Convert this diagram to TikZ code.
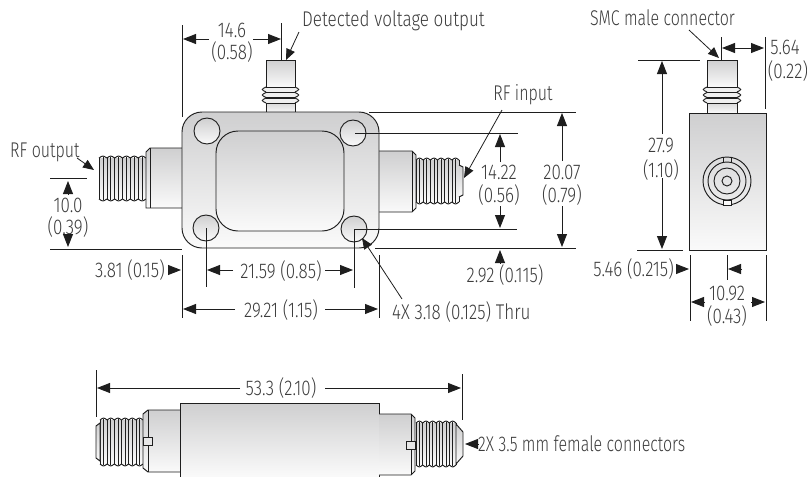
\documentclass[tikz,border=0pt]{standalone}
\usepackage{fontspec}
\setmainfont[FakeStretch=0.80]{Fira Sans Light}
\newfontfamily\narrowface[FakeStretch=0.75]{Fira Sans Light}
\usetikzlibrary{arrows.meta}
\definecolor{inkc}{HTML}{1E1E1E}
\definecolor{txtc}{HTML}{3C3C3C}
\definecolor{shadetop}{HTML}{CFCFD0}
\definecolor{shadebot}{HTML}{FAFAFA}
\tikzset{
  lbl/.style={inner sep=0pt,text=txtc,font=\fontsize{21.3}{22}\selectfont,anchor=center},
  lblnarrow/.style={lbl,font=\fontsize{21.3}{22}\selectfont\narrowface},
  outline/.style={draw=inkc,line width=0.95pt},
  metal/.style={outline,top color=shadetop,bottom color=shadebot},
  extline/.style={draw=inkc,line width=0.85pt},
  dimline/.style={draw=inkc,line width=0.85pt,-{Triangle[length=13pt,width=10pt]}},
  leaderline/.style={draw=inkc,line width=0.8pt,-{Triangle[length=11pt,width=9pt]}},
  fineline/.style={draw=inkc,line width=0.6pt}
}
% horizontal thread: x0,x1,ytop,ybot,teeth
\newcommand{\hthreadpart}[5]{%
  \pgfmathsetmacro{\thw}{(#2-#1)/#5}
  \fill[top color=shadetop,bottom color=shadebot] (#1,#3) rectangle (#2,#4);
  \foreach \ti in {1,...,#5}{
    \pgfmathsetmacro{\xa}{#1+(\ti-1)*\thw}
    \pgfmathsetmacro{\xb}{#1+\ti*\thw}
    \pgfmathsetmacro{\xm}{(\xa+\xb)/2}
    \draw[outline] (\xa,#3) .. controls (\xm,#3-2.6) .. (\xb,#3);
    \draw[outline] (\xa,#4) .. controls (\xm,#4+2.6) .. (\xb,#4);
    \draw[fineline] (\xa,#3) -- (\xa,#4);
    \draw[fineline] (\xm,#3-1) -- (\xm,#4+1);
  }
  \draw[fineline] (#2,#3) -- (#2,#4);
}
% vertical connector: x0,x1,top
\newcommand{\vconnpart}[3]{%
  \draw[metal] (#1,#3) rectangle (#2,#3+27);
  \draw[metal] (#1,#3+40) rectangle (#2,#3+53);
  \foreach \yy in {27,32.5,38}{
    \fill[shadebot!75!shadetop] (#1-3,#3+\yy) rectangle (#2+3,#3+\yy+5);
    \draw[outline] (#1,#3+\yy) .. controls (#1-5,#3+\yy+2.5) .. (#1,#3+\yy+5);
    \draw[outline] (#2,#3+\yy) .. controls (#2+5,#3+\yy+2.5) .. (#2,#3+\yy+5);
    \draw[outline] (#1,#3+\yy+0.2) -- (#2,#3+\yy+0.2);
    \draw[outline] (#1,#3+\yy+5) -- (#2,#3+\yy+5);
  }
}
\begin{document}
\begin{tikzpicture}[x=1pt,y=-1pt]
\useasboundingbox (0,0) rectangle (807,477);

% ---------- main view: connectors
\vconnpart{266}{295}{60}
\hthreadpart{99}{146}{158}{199}{6}
\draw[metal] (182,148) -- (150,148) -- (146,152) -- (146,208) -- (182,208);
\draw[fineline] (150,148) -- (150,208);
\draw[metal] (379,151) -- (412,151) -- (416,155) -- (416,208) -- (412,212) -- (379,212);
\draw[fineline] (412,151) -- (412,212);
\hthreadpart{416}{459}{160}{202}{6}
\draw[metal] (459,165) -- (463,167) -- (463,195) -- (459,197);

% ---------- main view: body
\draw[metal,rounded corners=20pt] (182,112) rectangle (379,248);
\draw[metal,rounded corners=22pt] (216,131) rectangle (344,231);
\node[circle,metal,minimum size=26pt,inner sep=0pt] (holeTL) at (207,131) {};
\node[circle,metal,minimum size=26pt,inner sep=0pt] (holeTR) at (353,133) {};
\node[circle,metal,minimum size=26pt,inner sep=0pt] (holeBL) at (206,228) {};
\node[circle,metal,minimum size=26pt,inner sep=0pt] (holeBR) at (354,229) {};

% ---------- side view
\vconnpart{707}{737}{60}
\draw[metal] (689,113) rectangle (766,250);
\node[circle,outline,minimum size=48pt,inner sep=0pt] (ringA) at (727,181) {};
\node[circle,outline,minimum size=38pt,inner sep=0pt] (ringB) at (727,181) {};
\node[circle,outline,minimum size=26pt,inner sep=0pt] (ringC) at (727,181) {};
\node[circle,outline,minimum size=10pt,inner sep=0pt] (ringD) at (727,181) {};
\draw[outline,line width=0.7pt,fill=shadebot] (723,200) rectangle (731,205);
\draw[outline,line width=0.7pt] (723,157) -- (723,162) (731,157) -- (731,162);

% ---------- bottom view
\hthreadpart{100}{143}{420}{464}{6}
\draw[metal] (100,423) -- (96,426) -- (96,458) -- (100,461) -- cycle;
\draw[metal] (180,410) -- (148,410) -- (143,414) -- (143,468) -- (148,472) -- (180,472);
\draw[fineline] (148,410) -- (148,472);
\draw[outline,line width=0.7pt,fill=shadetop!50!white] (143,437) rectangle (152,445);
\shade[top color=shadetop,bottom color=shadebot] (180,403) rectangle (379,477);
\draw[outline] (180,477) -- (180,403) -- (379,403) -- (379,477);
\draw[metal] (379,414) -- (411,414) -- (415,418) -- (415,471) -- (411,475) -- (379,475);
\draw[fineline] (411,414) -- (411,475);
\draw[outline,line width=0.7pt,fill=shadetop!50!white] (406,441) rectangle (415,449);
\hthreadpart{416}{456}{423}{465}{6}
\draw[metal] (456,424) -- (463,432) -- (463,456) -- (456,464) -- cycle;

% ---------- labels
\node[lbl] (n146a) at (232,30) {14.6};
\node[lbl] (n146b) at (232,52) {(0.58)};
\node[lbl,anchor=west] (detected) at (302,21) {Detected voltage output};
\node[lblnarrow,anchor=west] (rfout) at (10,152) {RF output};
\node[lbl] (n10a) at (68,205) {10.0};
\node[lbl] (n10b) at (68,227) {(0.39)};
\node[lbl,anchor=east] (n381) at (165,270) {3.81 (0.15)};
\node[lbl] (n2159) at (281,271) {21.59 (0.85)};
\node[lbl] (n2921) at (281,310) {29.21 (1.15)};
\node[lbl,anchor=west] (thru) at (392,312) {4X 3.18 (0.125) Thru};
\node[lblnarrow] (rfin) at (523,95) {RF input};
\node[lbl] (n1422a) at (499,172) {14.22};
\node[lbl] (n1422b) at (499,195) {(0.56)};
\node[lbl] (n2007a) at (562,172) {20.07};
\node[lbl] (n2007b) at (562,195) {(0.79)};
\node[lbl] (n292) at (505,275) {2.92 (0.115)};
\node[lblnarrow,anchor=west] (smc) at (590,18) {SMC male connector};
\node[lbl] (n564a) at (785,47) {5.64};
\node[lbl] (n564b) at (788,71) {(0.22)};
\node[lbl] (n279a) at (661,146) {27.9};
\node[lbl] (n279b) at (661,170) {(1.10)};
\node[lbl,anchor=east] (n546) at (674,269) {5.46 (0.215)};
\node[lbl] (n1092a) at (727,293) {10.92};
\node[lbl] (n1092b) at (727,316) {(0.43)};
\node[lbl] (n533) at (281,388) {53.3 (2.10)};
\node[lblnarrow,anchor=west] (female) at (478,444) {2X 3.5 mm female connectors};

% ---------- extension lines
\foreach \pa/\pb/\pc/\pd in {182/25/182/117, 281/23/281/60, 182/255/182/318, 206/228/206/287,
  354/229/354/288, 379/255/379/318, 721/37/721/60, 765/37/765/109, 690/255/690/321,
  727/255/727/280, 766/255/766/321, 96/370/96/417, 462/374/462/420,
  369/112/576/112, 355/133/518/133, 355/229/517/229, 375/248/576/248,
  50/178/87/178, 50/249/182/249, 638/60/700/60, 637/250/683/250}
  {\draw[extline] (\pa,\pb) -- (\pc,\pd);}

% ---------- dimension arrows
\foreach \pa/\pb/\pc/\pd in {209/39/183/39, 253/39/281/39,
  68/194/68/181, 68/234/68/247,
  168/270/181/270,
  233/270/207/270, 325/270/353/270,
  235/309/183/309, 325/309/378/309,
  500/162/500/134, 500/206/500/228,
  562/161/562/113, 562/206/562/247,
  500/263/500/250,
  743/48/722/48, 743/48/764/48,
  662/134/662/61, 662/178/662/249,
  676/269/689/269,
  742/269/728/269,
  705/302/691/302, 751/302/765/302,
  240/388/97/388, 325/388/461/388,
  478/444/465/444}
  {\draw[dimline] (\pa,\pb) -- (\pc,\pd);}

% ---------- leaders
\coordinate (tipDetected) at (286,60);
\coordinate (tipRfOut) at (94,170);
\coordinate (tipRfIn) at (464,178);
\coordinate (tipThru) at (362,238);
\coordinate (tipSmc) at (719,58);
\draw[leaderline] (299,32) -- (tipDetected);
\draw[leaderline] (77,158) -- (tipRfOut);
\draw[leaderline] (502,110) -- (tipRfIn);
\draw[leaderline] (402,299) -- (tipThru);
\draw[leaderline] (689,30) -- (tipSmc);
\end{tikzpicture}
\end{document}
